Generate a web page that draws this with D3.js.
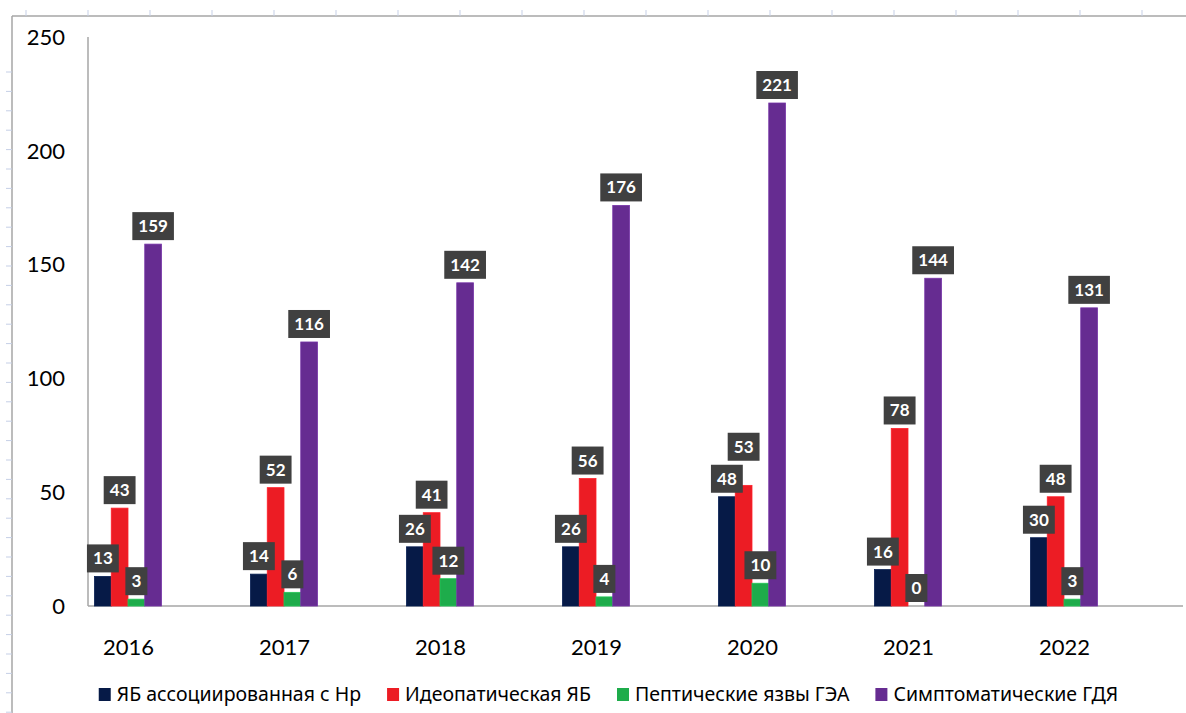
<!DOCTYPE html>
<html lang="ru">
<head>
    <meta charset="UTF-8">
    <title>ЯБ по годам</title>
    <script src="https://d3js.org/d3.v7.min.js"></script>
    <style>
        body { margin: 0; background: #fff; }
        svg { display: block; font-family: Lato, "Noto Sans", sans-serif; }
        .tick-label { font-size: 22px; fill: #000; }
        .val-box { fill: #404040; }
        .val-text { font-size: 17px; font-weight: bold; fill: #fff; }
        .legend-text { font-family: "Noto Sans", sans-serif; font-size: 19.5px; fill: #000; }
    </style>
</head>
<body>
<div id="chart"></div>
<script>
    // data
    const years = ["2016", "2017", "2018", "2019", "2020", "2021", "2022"];
    const seriesNames = ["ЯБ ассоциированная с Нр", "Идеопатическая ЯБ", "Пептические язвы ГЭА", "Симптоматические ГДЯ"];
    const hpUlcer = [13, 14, 26, 26, 48, 16, 30];
    const idioUlcer = [43, 52, 41, 56, 53, 78, 48];
    const gaUlcer = [3, 6, 12, 4, 10, 0, 3];
    const sympUlcer = [159, 116, 142, 176, 221, 144, 131];
    const yTicks = [0, 50, 100, 150, 200, 250];

    const colors = ["#061a47", "#ec1c24", "#1eac4b", "#662c91"];
    const allSeries = [hpUlcer, idioUlcer, gaUlcer, sympUlcer];

    const W = 1186, H = 713;
    const svg = d3.select("#chart").append("svg")
        .attr("width", W)
        .attr("height", H);

    // sheet frame + ruler marks
    svg.append("line").attr("x1", 12).attr("x2", W).attr("y1", 16).attr("y2", 16)
        .attr("stroke", "#a6a6a6").attr("stroke-width", 1.5);
    svg.append("line").attr("x1", 12).attr("x2", 12).attr("y1", 16).attr("y2", H)
        .attr("stroke", "#a6a6a6").attr("stroke-width", 1.5);
    svg.append("g").selectAll("line")
        .data(d3.range(26, W, 62))
        .join("line")
        .attr("x1", d => d).attr("x2", d => d)
        .attr("y1", 10).attr("y2", 16)
        .attr("stroke", "#c5cfe6");
    svg.append("g").selectAll("line")
        .data(d3.range(72, H, 19.4))
        .join("line")
        .attr("x1", 6).attr("x2", 12)
        .attr("y1", d => d).attr("y2", d => d)
        .attr("stroke", "#c5cfe6");

    // scales
    const x = d3.scaleBand()
        .domain(years)
        .range([50, 50 + 156 * years.length]);

    const y = d3.scaleLinear()
        .domain([0, 250])
        .range([606, 37]);

    const inner = d3.scaleBand()
        .domain(d3.range(4))
        .range([-33.5, 33.5]);

    // axes lines
    svg.append("line").attr("x1", 88).attr("x2", 88)
        .attr("y1", y(250)).attr("y2", y(0))
        .attr("stroke", "#a6a6a6").attr("stroke-width", 1.5);
    svg.append("line").attr("x1", 88).attr("x2", 1183)
        .attr("y1", y(0)).attr("y2", y(0))
        .attr("stroke", "#a6a6a6").attr("stroke-width", 1.5);

    // y labels
    svg.append("g").selectAll("text")
        .data(yTicks)
        .join("text")
        .attr("class", "tick-label")
        .attr("x", 65)
        .attr("y", d => y(d))
        .attr("dy", "0.35em")
        .attr("text-anchor", "end")
        .text(d => d);

    // x labels
    svg.append("g").selectAll("text")
        .data(years)
        .join("text")
        .attr("class", "tick-label")
        .attr("x", d => x(d) + x.bandwidth() / 2 + 0.5)
        .attr("y", 655)
        .attr("text-anchor", "middle")
        .text(d => d);

    // bars
    const bars = [];
    allSeries.forEach((vals, s) => {
        vals.forEach((v, i) => {
            bars.push({ s, v, year: years[i] });
        });
    });
    const cx = d => x(d.year) + x.bandwidth() / 2 + inner(d.s) + inner.bandwidth() / 2;

    svg.append("g").selectAll("rect")
        .data(bars)
        .join("rect")
        .attr("x", d => x(d.year) + x.bandwidth() / 2 + inner(d.s))
        .attr("width", inner.bandwidth())
        .attr("y", d => y(d.v))
        .attr("height", d => y(0) - y(d.v))
        .attr("fill", d => colors[d.s])
        .attr("stroke", d => d3.color(colors[d.s]).brighter(0.4))
        .attr("stroke-width", 0.8);

    // value labels (boxes pushed up when they collide, like Excel does)
    const lab = svg.append("g").selectAll("g")
        .data(bars)
        .join("g");

    lab.append("text")
        .attr("class", "val-text")
        .attr("text-anchor", "middle")
        .attr("y", -8)
        .text(d => d.v);

    const placed = [];
    lab.each(function (d) {
        const g = d3.select(this);
        const w = g.select("text").node().getBBox().width + 12;
        let bottom = y(d.v) - 4;
        const left = cx(d) - w / 2, right = cx(d) + w / 2;
        placed.forEach(p => {
            if (p.year === d.year && left < p.right && right > p.left &&
                bottom > p.top && bottom - 28 < p.bottom) {
                bottom = p.top - 4;
            }
        });
        placed.push({ year: d.year, left, right, top: bottom - 28, bottom });
        g.attr("transform", `translate(${cx(d)},${bottom})`);
        g.insert("rect", "text")
            .attr("class", "val-box")
            .attr("x", -w / 2)
            .attr("width", w)
            .attr("y", -28)
            .attr("height", 28);
    });

    // legend, laid out in a row and centred under the plot
    const gap = 26;
    const leg = svg.append("g").attr("transform", "translate(0,694)");
    const items = leg.selectAll("g")
        .data(seriesNames)
        .join("g");
    items.append("rect")
        .attr("x", 0).attr("y", -6)
        .attr("width", 12).attr("height", 13)
        .attr("fill", (d, i) => colors[i]);
    items.append("text")
        .attr("class", "legend-text")
        .attr("x", 18)
        .attr("dy", "0.35em")
        .text(d => d);
    let pos = 0;
    items.each(function () {
        const g = d3.select(this);
        g.attr("transform", `translate(${pos},0)`);
        pos += 18 + g.select("text").node().getComputedTextLength() + gap;
    });
    const total = pos - gap;
    leg.attr("transform", `translate(${(92 + 1125) / 2 - total / 2},694)`);
</script>
</body>
</html>
